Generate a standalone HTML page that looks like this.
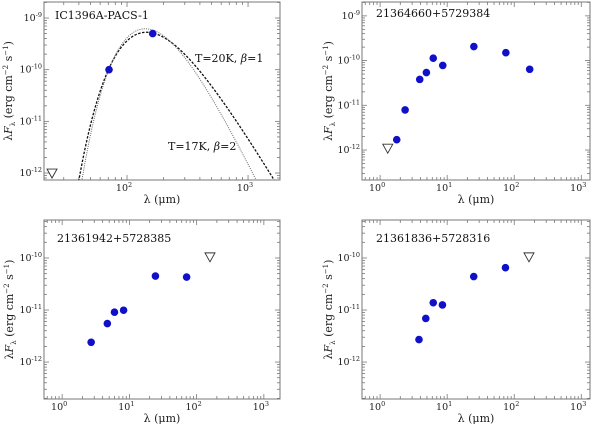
<!DOCTYPE html>
<html><head><meta charset="utf-8"><style>
html,body{margin:0;padding:0;background:#fff;}
svg{display:block;font-family:"DejaVu Serif","Liberation Serif",serif;}
</style></head><body>
<svg id="fig" width="600" height="424" viewBox="0 0 600 424" xmlns="http://www.w3.org/2000/svg">
<defs></defs>
</svg>
<script>
// ----- data -----
const p1Wave = [71, 163];
const p1Flux = [1.0e-10, 5.0e-10];
const p1LimWave = [24];
const p1LimFlux = [1.0e-12];
const modelTemps = [20, 17];
const modelBetas = [1, 2];
const modelPeaks = [5.3e-10, 6.2e-10];
const modelLabels = ["T=20K, β=1", "T=17K, β=2"];

const p2Wave = [1.77, 2.36, 3.9, 4.9, 6.2, 8.6, 25, 75, 170];
const p2Flux = [1.7e-12, 7.9e-12, 3.8e-11, 5.4e-11, 1.13e-10, 7.8e-11, 2.06e-10, 1.5e-10, 6.4e-11];
const p2LimWave = [1.3];
const p2LimFlux = [1.1e-12];

const p3Wave = [2.7, 4.7, 6.0, 8.2, 24.4, 71];
const p3Flux = [2.4e-12, 5.5e-12, 9.1e-12, 9.9e-12, 4.5e-11, 4.3e-11];
const p3LimWave = [158];
const p3LimFlux = [1.05e-10];

const p4Wave = [3.8, 4.8, 6.2, 8.5, 24.9, 74];
const p4Flux = [2.7e-12, 6.9e-12, 1.38e-11, 1.25e-11, 4.4e-11, 6.5e-11];
const p4LimWave = [166];
const p4LimFlux = [1.05e-10];

const xTickExps1 = [2, 3];
const xTickExps = [0, 1, 2, 3];
const yTickExps1 = [-9, -10, -11, -12];
const yTickExps3 = [-10, -11, -12];

const svg = document.getElementById('fig');
const NS = 'http://www.w3.org/2000/svg';
function mk(tag, attrs, parent) {
  const e = document.createElementNS(NS, tag);
  for (const k in attrs) e.setAttribute(k, attrs[k]);
  (parent || svg).appendChild(e);
  return e;
}

function panel(cfg) {
  const g = mk('g', {});
  
  
  const {x0, x1, y0, y1, lx0, lx1, ly0, ly1} = cfg;
  const sx = v => x0 + (Math.log10(v) - lx0) / (lx1 - lx0) * (x1 - x0);
  const sy = v => y1 - (Math.log10(v) - ly0) / (ly1 - ly0) * (y1 - y0);
  const clipId = 'clip-' + cfg.name;
  const cp = mk('clipPath', {id: clipId}, svg.querySelector('defs'));
  mk('rect', {x: x0, y: y0, width: x1 - x0, height: y1 - y0}, cp);
  const fr = mk('rect', {x: x0, y: y0, width: x1 - x0, height: y1 - y0, fill: 'none', stroke: '#777', 'stroke-width': 1}, g);
  
  
  for (let e = Math.floor(lx0); e <= Math.ceil(lx1); e++) {
    for (let m = 1; m < 10; m++) {
      const lv = e + Math.log10(m);
      if (lv < lx0 || lv > lx1) continue;
      const px = sx(Math.pow(10, lv));
      const L = m === 1 ? 5 : 3;
      mk('line', {x1: px, x2: px, y1: y1, y2: y1 - L, stroke: '#777', 'stroke-width': 0.8}, g);
      mk('line', {x1: px, x2: px, y1: y0, y2: y0 + L, stroke: '#777', 'stroke-width': 0.8}, g);
    }
  }
  for (let e = Math.floor(ly0); e <= Math.ceil(ly1); e++) {
    for (let m = 1; m < 10; m++) {
      const lv = e + Math.log10(m);
      if (lv < ly0 || lv > ly1) continue;
      const py = sy(Math.pow(10, lv));
      const L = m === 1 ? 5 : 3;
      mk('line', {x1: x0, x2: x0 + L, y1: py, y2: py, stroke: '#777', 'stroke-width': 0.8}, g);
      mk('line', {x1: x1, x2: x1 - L, y1: py, y2: py, stroke: '#777', 'stroke-width': 0.8}, g);
    }
  }
  cfg.xTicks.forEach(e => {
    const t = mk('text', {x: sx(Math.pow(10, e)) - 3, y: y1 + 11, 'font-size': 9.5, 'text-anchor': 'middle', fill: '#222'}, g);
    
    
    t.textContent = '10';
    const s = mk('tspan', {dy: -4, 'font-size': 6.5}, t);
    s.textContent = String(e);
  });
  cfg.yTicks.forEach(e => {
    const t = mk('text', {x: x0 - 2, y: sy(Math.pow(10, e)) + 3, 'font-size': 9.5, 'text-anchor': 'end', fill: '#222'}, g);
    
    
    t.textContent = '10';
    const s = mk('tspan', {dy: -4, 'font-size': 6.5}, t);
    s.textContent = String(e);
  });
  const xt = mk('text', {x: (x0 + x1) / 2, y: y1 + 23, 'font-size': 11, 'text-anchor': 'middle', fill: '#222'}, g);
  
  
  xt.textContent = 'λ (μm)';
  const cy = (y0 + y1) / 2;
  const yt = mk('text', {x: cfg.ylx, y: cy, 'font-size': 11, 'text-anchor': 'middle', fill: '#222', transform: `rotate(-90 ${cfg.ylx} ${cy})`}, g);
  
  
  yt.innerHTML = 'λ<tspan font-style="italic">F</tspan><tspan font-size="7" dy="3">λ</tspan><tspan dy="-3"> (erg cm</tspan><tspan font-size="7" dy="-4">−2</tspan><tspan dy="4"> s</tspan><tspan font-size="7" dy="-4">−1</tspan><tspan dy="4">)</tspan>';
  const tt = mk('text', {x: cfg.tx, y: cfg.ty, 'font-size': 11, fill: '#111'}, g);
  
  
  tt.textContent = cfg.title;
  const dg = mk('g', {'clip-path': `url(#${clipId})`}, g);
  if (cfg.models) {
    modelTemps.forEach((T, i) => {
      const b = modelBetas[i];
      const f = l => Math.pow(l, -(4 + b)) / (Math.exp(14388 / (l * T)) - 1);
      let mx = 0;
      for (let l = 10; l < 3000; l *= 1.01) mx = Math.max(mx, f(l));
      let d = '';
      for (let l = 15; l < 3000; l *= 1.01) {
        const v = f(l) / mx * modelPeaks[i];
        if (v < 1e-14) continue;
        d += (d ? 'L' : 'M') + sx(l).toFixed(2) + ',' + sy(v).toFixed(2);
      }
      const p = mk('path', {d, fill: 'none', stroke: i === 0 ? '#111' : '#666', 'stroke-width': i === 0 ? 1.3 : 1, 'stroke-dasharray': i === 0 ? '2.5,1.5' : '1,1.2'}, dg);
      
      
    });
    const l1 = mk('text', {x: 195, y: 62, 'font-size': 11, fill: '#111'}, g);
    
    
    l1.innerHTML = 'T=20K, <tspan font-style="italic">β</tspan>=1';
    const l2 = mk('text', {x: 168, y: 150, 'font-size': 11, fill: '#111'}, g);
    
    
    l2.innerHTML = 'T=17K, <tspan font-style="italic">β</tspan>=2';
  }
  cfg.wave.forEach((w, i) => {
    const c = mk('circle', {cx: sx(w), cy: sy(cfg.flux[i]), r: 3.8, fill: '#1010c8'}, dg);
    
    
  });
  cfg.limW.forEach((w, i) => {
    const x = sx(w), y = sy(cfg.limF[i]);
    const p = mk('path', {d: `M${x - 5},${y - 4}L${x + 5},${y - 4}L${x},${y + 5}Z`, fill: 'none', stroke: '#333', 'stroke-width': 0.9}, dg);
    
    
  });
}

panel({name: 'panel-ic1396a-pacs-1', x0: 44, x1: 280, y0: 2, y1: 180, lx0: 1.314, lx1: 3.264, ly0: -12.135, ly1: -8.69,
  xTicks: xTickExps1, yTicks: yTickExps1, title: 'IC1396A-PACS-1', tx: 55, ty: 19, ylx: 12,
  wave: p1Wave, flux: p1Flux, limW: p1LimWave, limF: p1LimFlux, models: true});
panel({name: 'panel-21364660', x0: 362, x1: 590, y0: 2, y1: 180, lx0: -0.27, lx1: 3.13, ly0: -12.67, ly1: -8.69,
  xTicks: xTickExps, yTicks: yTickExps1, title: '21364660+5729384', tx: 376, ty: 17, ylx: 332,
  wave: p2Wave, flux: p2Flux, limW: p2LimWave, limF: p2LimFlux});
panel({name: 'panel-21361942', x0: 44, x1: 280, y0: 220, y1: 399, lx0: -0.27, lx1: 3.24, ly0: -12.71, ly1: -9.27,
  xTicks: xTickExps, yTicks: yTickExps3, title: '21361942+5728385', tx: 57, ty: 242, ylx: 13,
  wave: p3Wave, flux: p3Flux, limW: p3LimWave, limF: p3LimFlux});
panel({name: 'panel-21361836', x0: 362, x1: 590, y0: 220, y1: 399, lx0: -0.27, lx1: 3.13, ly0: -12.71, ly1: -9.27,
  xTicks: xTickExps, yTicks: yTickExps3, title: '21361836+5728316', tx: 376, ty: 242, ylx: 332,
  wave: p4Wave, flux: p4Flux, limW: p4LimWave, limF: p4LimFlux});
</script>
</body></html>
